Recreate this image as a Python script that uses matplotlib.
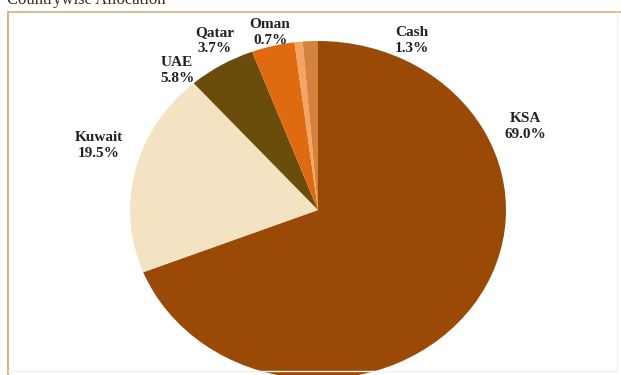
import matplotlib.pyplot as plt
from matplotlib.lines import Line2D

# countrywise allocation (%)
countries = ['KSA', 'Kuwait', 'UAE', 'Qatar', 'Oman', 'Cash']
shares = [69.0, 19.5, 5.8, 3.7, 0.7, 1.3]
colors = ['#9A4A06', '#F3E3C3', '#6A4C0B', '#E06A10', '#F6A463', '#D5823C']

# label centres in pixels from the top-left corner
label_pos = [(525, 127), (99, 145), (177, 71), (215, 41), (270, 32), (412, 41)]

W, H = 621, 375
fig = plt.figure(figsize=(W / 100, H / 100), dpi=100)
fig.patch.set_facecolor('white')

# panel border: strong on top/left, faint on right/bottom
def fline(x0, y0, x1, y1, c, lw):
    fig.add_artist(Line2D([x0 / W, x1 / W], [1 - y0 / H, 1 - y1 / H], color=c, lw=lw,
                          transform=fig.transFigure))

fline(8, 12, W, 12, '#D2AE7A', 1.2)
fline(8, 12, 8, H, '#D9A560', 1.2)
fline(617, 12, 617, 371, '#F4F1EA', 1.0)
fline(8, 371, 617, 371, '#F4F1EA', 1.0)

fig.text(7 / W, 1 - 4 / H, 'Countrywise Allocation', family='Liberation Serif',
         fontsize=12, color='#3A2A10', va='baseline', ha='left')

# pie is slightly wider than tall
cx, cy = 318, H - 210
rx, ry = 188, 169
lim = 1.2
ax = fig.add_axes([(cx - rx * lim) / W, (cy - ry * lim) / H, 2 * rx * lim / W, 2 * ry * lim / H])
ax.pie(shares, colors=colors, startangle=90, counterclock=False,
       wedgeprops=dict(linewidth=0))
ax.set_aspect('auto')
ax.set_xlim(-lim, lim)
ax.set_ylim(-lim, lim)
ax.axis('off')

for name, val, (px, py) in zip(countries, shares, label_pos):
    fig.text(px / W, 1 - py / H, f'{name}\n{val:.1f}%', family='Liberation Serif',
             fontweight='bold', fontsize=11, color='#222222', ha='center', va='center',
             linespacing=1.3)

fig.savefig('out.png', dpi=100)
